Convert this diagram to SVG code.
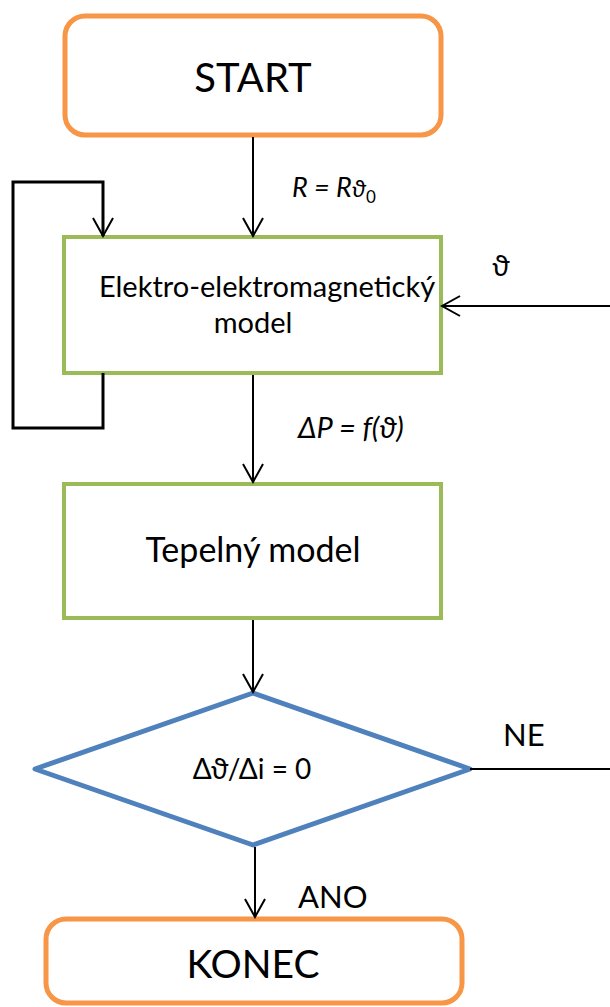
<svg xmlns="http://www.w3.org/2000/svg" width="610" height="1007" viewBox="0 0 610 1007">
<style>
.term{fill:#fff;stroke:#F79646;stroke-width:5}
.proc{fill:#fff;stroke:#9BBB59;stroke-width:4}
.dec{fill:#fff;stroke:#4F81BD;stroke-width:5;stroke-linejoin:round}
.c{fill:none;stroke:#000;stroke-width:2}
.loop{fill:none;stroke:#000;stroke-width:3}
text{font-family:Lato,"Open Sans","Liberation Sans",sans-serif;fill:#000}
.m{text-anchor:middle}
.i{font-style:italic}
</style>
<defs>
<marker id="arr" markerWidth="22" markerHeight="22" refX="20" refY="11" orient="auto" markerUnits="userSpaceOnUse">
<path d="M2,1 L20,11 L2,21" fill="none" stroke="#000" stroke-width="2"/>
</marker>
</defs>
<g id="start"><rect class="term" x="65" y="16" width="376" height="119" rx="20"/><text class="m" x="253" y="92" font-size="40">START</text></g>
<g id="elektro"><rect class="proc" x="64" y="237" width="377" height="136"/><text class="m" x="267" y="297" font-size="29">Elektro-elektromagnetický</text><text class="m" x="253" y="333" font-size="29">model</text></g>
<g id="tepelny"><rect class="proc" x="64" y="484" width="377" height="134"/><text class="m" x="253" y="562" font-size="34">Tepelný model</text></g>
<g id="decision"><polygon class="dec" points="253,693 470,769 253,845 35,769"/><text class="m" x="252" y="779" font-size="28">Δϑ/Δi = 0</text></g>
<g id="konec"><rect class="term" x="46" y="919" width="416" height="84" rx="20"/><text class="m" x="253" y="978" font-size="39">KONEC</text></g>
<g id="connectors">
<line class="c" x1="253" y1="137" x2="253" y2="236" marker-end="url(#arr)"/>
<polyline class="loop" points="103,373 103,428 13,428 13,182 103,182 103,236" marker-end="url(#arr)"/>
<line class="c" x1="610" y1="306" x2="442" y2="306" marker-end="url(#arr)"/>
<line class="c" x1="253" y1="375" x2="253" y2="482" marker-end="url(#arr)"/>
<line class="c" x1="253" y1="620" x2="253" y2="692" marker-end="url(#arr)"/>
<line class="c" x1="470" y1="769" x2="610" y2="769"/>
<line class="c" x1="255" y1="847" x2="255" y2="917" marker-end="url(#arr)"/>
<text class="i" x="292" y="197" font-size="27">R = R<tspan font-size="24">ϑ</tspan><tspan font-size="17" dy="6" font-style="normal">0</tspan></text>
<text x="492" y="276" font-size="28">ϑ</text>
<text class="i" x="298" y="438" font-size="29">ΔP = f(ϑ)</text>
<text x="503" y="746" font-size="31">NE</text>
<text x="298" y="908" font-size="31">ANO</text>
</g>
</svg>
